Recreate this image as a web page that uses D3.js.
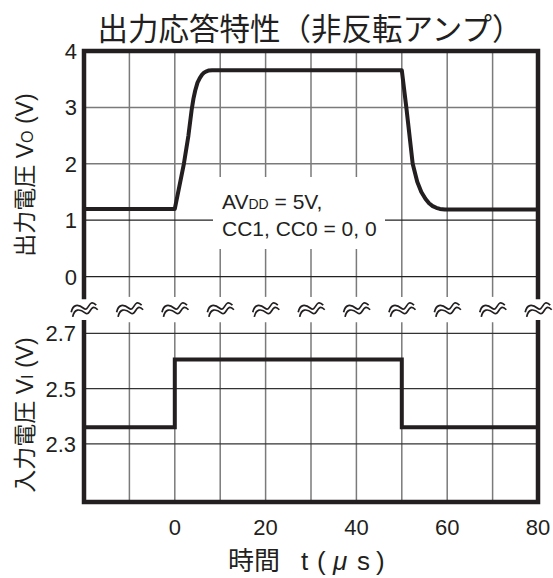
<!DOCTYPE html>
<html>
<head>
<meta charset="utf-8">
<script src="https://cdn.jsdelivr.net/npm/d3@7"></script>
<style>
  html, body { margin: 0; padding: 0; background: #fff; }
  svg { display: block; }
  .lat { font-family: "Liberation Sans", Arial, sans-serif; }
  .jp { font-family: "Noto Sans CJK JP", "Noto Sans", sans-serif; }
</style>
</head>
<body>
<script>
// Time axis (µs)
const timeDomain = [-20, 80];
const timeGrid = [-20, -10, 0, 10, 20, 30, 40, 50, 60, 70, 80];
const timeTicks = [0, 20, 40, 60, 80];

// Output voltage panel (V)
const voTicks = [0, 1, 2, 3, 4];
const voTime  = [-20, 0, 1, 2, 3, 3.7, 4.1, 4.5, 5.0, 5.5, 6, 6.5, 7, 7.5, 8.2,
                 50, 51, 52.4, 53.4, 54.3, 55.2, 56.0, 56.8, 57.6, 58.4, 59.5, 80];
const voValue = [1.2, 1.2, 1.6, 2.0, 2.5, 2.95, 3.15, 3.3, 3.44, 3.52, 3.58, 3.62, 3.64, 3.655, 3.66,
                 3.66, 3.0, 2.0, 1.68, 1.5, 1.38, 1.3, 1.25, 1.22, 1.2, 1.19, 1.19];

// Input voltage panel (V)
const viTicks = [2.3, 2.5, 2.7];
const viTime  = [-20, 0, 50, 80];
const viValue = [2.36, 2.605, 2.36, 2.36];

const W = 553, H = 578;
const ink = "#231f20";

const svg = d3.select("body").append("svg")
  .attr("width", W).attr("height", H);

const x = d3.scaleLinear().domain(timeDomain).range([84, 538]);
const yTop = d3.scaleLinear().domain([0, 4]).range([276.6, 51]);
const yBot = d3.scaleLinear().domain([2.09, 2.7]).range([502, 333.3]);

const topFrameBottom = yTop(-0.36);
const botFrameTop = yBot(2.74);

// Title
svg.append("text").attr("class", "jp")
  .attr("x", 310).attr("y", 40)
  .attr("text-anchor", "middle")
  .attr("font-size", 30.5).attr("fill", ink)
  .text("出力応答特性（非反転アンプ）");

// ---- grids ----
const gTop = svg.append("g");
gTop.selectAll("line.v").data(timeGrid.slice(1, -1)).join("line")
  .attr("x1", d => x(d)).attr("x2", d => x(d))
  .attr("y1", yTop(4)).attr("y2", topFrameBottom)
  .attr("stroke", "#7a7a7a").attr("stroke-width", 1.5);
gTop.selectAll("line.h").data(voTicks.slice(0, -1)).join("line")
  .attr("x1", x(timeDomain[0])).attr("x2", x(timeDomain[1]))
  .attr("y1", d => yTop(d)).attr("y2", d => yTop(d))
  .attr("stroke", d => d <= 1 ? "#222" : "#7a7a7a")
  .attr("stroke-width", d => d <= 1 ? 1.2 : 1.5);

const gBot = svg.append("g");
gBot.selectAll("line.v").data(timeGrid.slice(1, -1)).join("line")
  .attr("x1", d => x(d)).attr("x2", d => x(d))
  .attr("y1", botFrameTop).attr("y2", yBot(2.09))
  .attr("stroke", "#7a7a7a").attr("stroke-width", 1.5);
gBot.selectAll("line.h").data(viTicks).join("line")
  .attr("x1", x(timeDomain[0])).attr("x2", x(timeDomain[1]))
  .attr("y1", d => yBot(d)).attr("y2", d => yBot(d))
  .attr("stroke", "#333").attr("stroke-width", 1.2);

// ---- condition note (white box masks grid behind it) ----
svg.append("rect")
  .attr("x", 213).attr("y", 177).attr("width", 172).attr("height", 72)
  .attr("fill", "#fff");
const note = svg.append("text").attr("class", "lat")
  .attr("font-size", 21).attr("fill", ink);
const l1 = note.append("tspan").attr("x", 222).attr("y", 209);
l1.append("tspan").text("AV");
l1.append("tspan").attr("font-size", 14).text("DD");
l1.append("tspan").text(" = 5V,");
note.append("tspan").attr("x", 222).attr("y", 236).text("CC1, CC0 = 0, 0");

// ---- frames ----
const frame = svg.append("g").attr("stroke", ink).attr("stroke-width", 4.5)
  .attr("fill", "none").attr("stroke-linecap", "square");
frame.append("path").attr("d",
  `M${x(timeDomain[0])},${topFrameBottom} V${yTop(4)} H${x(timeDomain[1])} V${topFrameBottom}`);
frame.append("path").attr("d",
  `M${x(timeDomain[0])},${botFrameTop} V${yBot(2.09)} H${x(timeDomain[1])} V${botFrameTop}`);

// ---- axis break marks ----
const breakY = (topFrameBottom + botFrameTop) / 2;
const brk = svg.append("g").attr("fill", "none").attr("stroke", ink).attr("stroke-width", 1.7);
timeGrid.forEach(t => {
  const g = brk.append("g").attr("transform", `translate(${x(t)},${breakY}) rotate(-18)`);
  [-2.4, 2.4].forEach(o => {
    g.append("path").attr("d",
      `M-13,${1 + o} C-9,${-6 + o} -4,${-5 + o} 0,${1 + o} S8,${-8 + o} 13,${2 + o}`);
  });
});

// ---- data lines ----
const voData = voTime.map((t, i) => [t, voValue[i]]);
svg.append("path").datum(voData)
  .attr("fill", "none").attr("stroke", ink).attr("stroke-width", 4)
  .attr("stroke-linejoin", "round")
  .attr("d", d3.line().x(d => x(d[0])).y(d => yTop(d[1])).curve(d3.curveLinear));

const viData = viTime.map((t, i) => [t, viValue[i]]);
svg.append("path").datum(viData)
  .attr("fill", "none").attr("stroke", ink).attr("stroke-width", 4)
  .attr("d", d3.line().x(d => x(d[0])).y(d => yBot(d[1])).curve(d3.curveStepAfter));

// ---- tick labels ----
svg.selectAll("text.yt").data(voTicks).join("text").attr("class", "lat")
  .attr("x", 77).attr("y", d => yTop(d)).attr("dy", "0.36em")
  .attr("text-anchor", "end").attr("font-size", 22).attr("fill", ink)
  .text(d => d3.format("d")(d));
svg.selectAll("text.yb").data(viTicks).join("text").attr("class", "lat")
  .attr("x", 76).attr("y", d => yBot(d)).attr("dy", "0.36em")
  .attr("text-anchor", "end").attr("font-size", 22).attr("fill", ink)
  .text(d => d3.format(".1f")(d));
svg.selectAll("text.xt").data(timeTicks).join("text").attr("class", "lat")
  .attr("x", d => x(d)).attr("y", 534.5)
  .attr("text-anchor", "middle").attr("font-size", 22).attr("fill", ink)
  .text(d => d);

// ---- axis titles ----
const xt = svg.append("text").attr("y", 570)
  .attr("font-size", 26).attr("fill", ink);
xt.append("tspan").attr("class", "jp").attr("x", 228).text("時間");
xt.append("tspan").attr("class", "lat").attr("x", 301).text("t");
xt.append("tspan").attr("class", "lat").attr("x", 317).text("(");
xt.append("tspan").attr("class", "lat").attr("x", 333).attr("font-style", "italic").text("μ");
xt.append("tspan").attr("class", "lat").attr("x", 357).text("s");
xt.append("tspan").attr("class", "lat").attr("x", 376).text(")");

function yTitle(cy, kanji, sub) {
  const t = svg.append("text")
    .attr("transform", `translate(33,${cy}) rotate(-90)`)
    .attr("text-anchor", "middle").attr("font-size", 23).attr("fill", ink);
  t.append("tspan").attr("class", "jp").text(kanji);
  t.append("tspan").attr("class", "lat").text(" V");
  t.append("tspan").attr("class", "lat").attr("font-size", 16).text(sub);
  t.append("tspan").attr("class", "lat").text(" (V)");
}
yTitle(175, "出力電圧", "O");
yTitle(415, "入力電圧", "I");
</script>
</body>
</html>
